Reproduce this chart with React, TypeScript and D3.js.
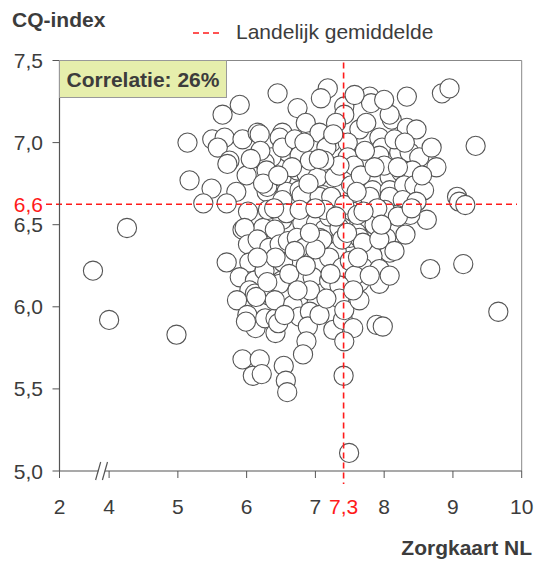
import * as d3 from 'd3'

// Zorgkaart NL score (x) en CQ-index (y) per ziekenhuis
const zorgkaart = [
  3.35, 4.0, 4.26, 4.98, 9.33, 9.66,
  7.18, 7.08, 6.45, 5.9, 5.65, 6.74, 7.42, 7.42, 7.79, 7.81, 8.33, 8.84, 8.95, 8.11, 8.33, 8.47, 8.08, 8.0, 7.57, 7.64,
  5.14, 5.5, 5.68, 5.94, 6.16, 6.19, 5.58, 6.52, 6.48, 6.86, 6.96, 7.06, 6.6, 7.23, 7.3, 7.47, 7.47, 7.74, 7.93, 7.97, 8.22, 8.37, 8.51, 8.69, 8.76, 7.16, 6.36, 6.52, 6.7, 6.77, 8.15,
  5.75, 5.72, 6.26, 6.0, 6.29, 6.51, 6.74, 6.87, 7.03, 7.28, 7.52, 7.74, 7.93, 8.08, 7.83, 8.08, 8.25, 8.41, 5.17, 5.49, 5.85, 6.29, 6.58, 6.77, 6.3, 7.11, 9.06, 7.56, 7.66, 7.35, 7.13, 6.92, 8.0, 8.29, 8.44, 8.58,
  5.37, 5.71, 6.02, 6.24, 5.94, 6.31, 6.52, 6.52, 6.8, 7.06, 6.81, 7.01, 7.13, 7.2, 6.58, 6.77, 7.35, 7.54, 7.79, 7.79, 8.08, 8.27, 8.47, 8.18, 8.62, 7.64, 8.03, 7.6, 8.18, 5.97, 6.51, 7.23, 9.09, 9.18, 7.13, 7.42, 7.61, 7.86, 8.01, 8.38, 8.31, 6.41,
  6.02, 6.16, 6.33, 6.48, 6.6, 6.73, 6.84, 7.06, 7.31, 7.5, 7.64, 8.03, 8.08, 7.83, 7.69, 7.39, 7.1, 5.71, 6.04, 5.9, 6.12, 6.63, 6.53, 6.96, 7.1, 6.81, 6.96, 6.51, 7.2, 7.69, 7.93, 7.2, 7.39, 7.64, 7.93, 8.67, 9.15, 6.32, 6.48, 7.93, 7.5, 7.57, 7.35, 6.7, 6.26, 8.15, 7.79, 8.08,
  6.04, 6.12, 5.86, 6.14, 6.81, 6.67, 7.02, 7.35, 6.01, 6.13, 6.27, 6.42, 6.42, 6.77, 6.92, 6.89, 7.26, 7.4, 7.55, 7.89, 7.98, 5.99, 6.46, 6.87, 7.42, 6.92, 6.41, 6.55, 7.06, 7.42, 7.64,
  5.94, 6.19, 6.09, 6.22, 6.54, 6.57, 6.59, 6.82, 7.41, 7.49,
  6.2, 6.4, 6.9, 7.0, 7.22, 6.62, 6.42, 7.72, 7.9, 8.2, 6.92, 7.3, 7.6, 7.46, 6.24, 6.06, 6.66, 7.05, 7.86, 8.2, 8.4, 7.62, 6.86, 6.74, 7.16, 7.55, 6.3, 6.16, 7.26, 6.84, 8.3, 8.55, 7.0, 6.46, 7.7, 7.96,
]
const cqIndex = [
  6.22, 5.92, 6.48, 5.83, 6.98, 5.97,
  7.33, 7.27, 7.3, 7.23, 7.17, 7.21, 7.22, 7.17, 7.28, 7.24, 7.28, 7.3, 7.33, 7.14, 7.09, 7.08, 7.17, 7.26, 7.29, 7.08,
  7.0, 7.02, 7.03, 7.02, 7.06, 7.05, 6.97, 7.06, 7.03, 7.12, 6.98, 7.06, 6.94, 7.0, 7.12, 7.0, 6.91, 7.12, 7.03, 6.97, 6.94, 6.94, 6.91, 6.97, 6.85, 6.97, 6.91, 6.97, 7.02, 6.92, 7.02,
  6.89, 6.87, 6.88, 6.8, 6.83, 6.79, 6.83, 6.81, 6.79, 6.79, 6.74, 6.88, 6.92, 6.79, 6.71, 6.71, 6.82, 6.83, 6.77, 6.72, 6.7, 6.7, 6.7, 6.71, 6.73, 6.68, 6.67, 6.86, 6.8, 6.86, 6.89, 6.89, 6.86, 6.74, 6.74, 6.71,
  6.63, 6.63, 6.58, 6.48, 6.47, 6.59, 6.53, 6.65, 6.68, 6.67, 6.51, 6.51, 6.47, 6.55, 6.57, 6.59, 6.48, 6.58, 6.61, 6.67, 6.67, 6.65, 6.64, 6.56, 6.53, 6.51, 6.48, 6.45, 6.45, 6.48, 6.39, 6.67, 6.64, 6.62, 6.59, 6.62, 6.56, 6.5, 6.59, 6.56, 6.44, 6.47,
  6.38, 6.41, 6.36, 6.38, 6.4, 6.42, 6.36, 6.42, 6.34, 6.42, 6.42, 6.42, 6.33, 6.31, 6.39, 6.41, 6.41, 6.27, 6.27, 6.18, 6.16, 6.27, 6.27, 6.28, 6.27, 6.18, 6.18, 6.16, 6.16, 6.24, 6.23, 6.3, 6.24, 6.15, 6.14, 6.23, 6.26, 6.07, 6.14, 6.41, 6.28, 6.19, 6.13, 6.34, 6.22, 6.34, 6.19, 6.19,
  6.1, 6.08, 6.04, 6.06, 6.06, 6.01, 6.03, 6.05, 5.95, 5.87, 5.93, 5.93, 5.84, 5.94, 5.97, 5.88, 5.86, 5.92, 5.87, 5.89, 5.88, 5.91, 5.9, 5.79, 5.79, 6.1, 6.04, 5.95, 5.95, 5.98, 6.04,
  5.68, 5.68, 5.58, 5.59, 5.64, 5.55, 5.48, 5.71, 5.58, 5.11,
  6.95, 6.6, 6.75, 6.35, 6.2, 6.2, 6.3, 6.95, 6.6, 6.55, 6.45, 6.55, 6.7, 6.45, 6.75, 6.9, 6.85, 6.9, 6.85, 6.85, 6.6, 6.3, 6.25, 6.1, 6.05, 6.1, 6.15, 6.3, 7.05, 7.0, 7.0, 6.8, 6.6, 6.8, 6.58, 6.5,
]

const xTicks = [2, 4, 5, 6, 7, 8, 9, 10]
const yTicks = [5.0, 5.5, 6.0, 6.5, 7.0, 7.5]
const landelijkX = 7.41
const landelijkY = 6.625
const landelijkXLabel = '7,3'
const landelijkYLabel = '6,6'
const correlatie = 'Correlatie: 26%'

const W = 535
const H = 562
const left = 59.5
const right = 521.7
const top = 60.5
const bottom = 471
const font = '"Liberation Sans", Arial, sans-serif'
const ink = '#3c3c3c'
const red = '#ff1a1a'
const fs = 21

export default function App() {
  // gebroken x-as: 2-4 samengedrukt, daarna lineair
  const x = d3.scaleLinear().domain([2, 4, 10]).range([left, 109.1, right])
  const y = d3.scaleLinear().domain([5, 7.5]).range([bottom, top])
  const fmt = (v: number) => v.toFixed(1).replace('.', ',')

  return (
    <svg width={W} height={H} style={{ position: 'absolute', left: 0, top: 0 }} fontFamily={font}>
      <rect width={W} height={H} fill="white" />

      {/* plot frame */}
      <line x1={left} x2={right} y1={top} y2={top} stroke="#888" />
      <line x1={right} x2={right} y1={top} y2={bottom} stroke="#888" />

      {/* punten */}
      <g>
        {zorgkaart.map((v, i) => (
          <circle key={i} cx={x(v)} cy={y(cqIndex[i])} r={9.6} fill="white" stroke="#555" strokeWidth={1.1} />
        ))}
      </g>

      {/* landelijk gemiddelde */}
      <line x1={46} x2={517} y1={y(landelijkY)} y2={y(landelijkY)} stroke={red} strokeWidth={1.6} strokeDasharray="6,4" />
      <line x1={x(landelijkX)} x2={x(landelijkX)} y1={top + 2} y2={bottom + 13} stroke={red} strokeWidth={1.6} strokeDasharray="6,4" />

      {/* y-as */}
      <line x1={left} x2={left} y1={top} y2={bottom} stroke="#555" strokeWidth={1.2} />
      {yTicks.map(t => (
        <g key={t}>
          <line x1={left - 7} x2={left} y1={y(t)} y2={y(t)} stroke="#555" />
          <text x={43} y={y(t)} dy="0.36em" textAnchor="end" fontSize={fs} fill={ink}>{fmt(t)}</text>
        </g>
      ))}
      <text x={43} y={y(landelijkY)} dy="0.36em" textAnchor="end" fontSize={fs} fill={red}>{landelijkYLabel}</text>

      {/* x-as */}
      <line x1={left} x2={right} y1={bottom} y2={bottom} stroke="#555" strokeWidth={1.2} />
      {xTicks.map(t => (
        <g key={t}>
          <line x1={x(t)} x2={x(t)} y1={bottom} y2={bottom + 7} stroke="#555" />
          <text x={x(t)} y={514} textAnchor="middle" fontSize={fs} fill={ink}>{t}</text>
        </g>
      ))}
      <text x={x(landelijkX)} y={514} textAnchor="middle" fontSize={fs} fill={red}>{landelijkXLabel}</text>

      {/* asbreuk */}
      <polygon points="96,480 101,463 107,463 102,480" fill="white" />
      <line x1={95.6} y1={480} x2={100.7} y2={462} stroke="#555" strokeWidth={1.2} />
      <line x1={102.4} y1={480} x2={107.5} y2={462} stroke="#555" strokeWidth={1.2} />

      {/* correlatie */}
      <rect x={left} y={top} width={167} height={37} fill="#e6eeac" stroke="#999" />
      <text x={left + 83.5} y={top + 26} textAnchor="middle" fontSize={fs} fontWeight="bold" fill={ink}>{correlatie}</text>

      {/* titels en legenda */}
      <text x={12} y={27} fontSize={fs} fontWeight="bold" fill={ink}>CQ-index</text>
      <line x1={193} x2={223} y1={33} y2={33} stroke={red} strokeWidth={1.6} strokeDasharray="6,4" />
      <text x={236} y={39} fontSize={fs} fill={ink}>Landelijk gemiddelde</text>
      <text x={532} y={555} textAnchor="end" fontSize={fs} fontWeight="bold" fill={ink}>Zorgkaart NL</text>
    </svg>
  )
}
